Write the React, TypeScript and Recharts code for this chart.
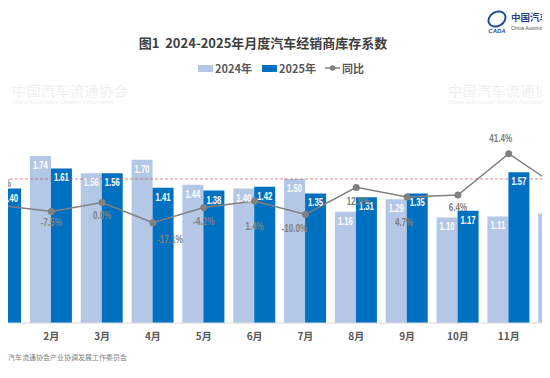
import React from 'react';
import { ComposedChart, Bar, Line, XAxis, YAxis, ReferenceLine, LabelList } from 'recharts';

const months = ['1月', '2月', '3月', '4月', '5月', '6月', '7月', '8月', '9月', '10月', '11月', '12月'];
const coef2024 = [1.43, 1.74, 1.56, 1.7, 1.44, 1.4, 1.5, 1.16, 1.29, 1.1, 1.11, 1.14];
const coef2025 = [1.4, 1.61, 1.56, 1.41, 1.38, 1.42, 1.35, 1.31, 1.35, 1.17, 1.57, 1.28];
const yoy = [-2.4, -7.5, 0.0, -17.1, -4.2, 1.4, -10.0, 12.9, 4.7, 6.4, 41.4, 12.3];
const warningLevel = 1.5;

// label nudges for the 同比 values (dx, dy from the point)
const yoyLabelShift: Array<[number, number]> = [
  [0, -22], [0, 11], [0, 12], [17, 16], [0, 13], [0, 25],
  [-11, 14], [2, 14], [-3, 25], [0, 12], [-8, -16], [14, 14],
];

const data = months.map((m, i) => ({
  month: m,
  y2024: coef2024[i],
  y2025: coef2025[i],
  yoy: yoy[i],
}));

const numFont = '"Liberation Sans", Arial, sans-serif';
const cjkFont = '"Noto Sans CJK SC", "Noto Sans", sans-serif';

// rough condensed widths so the numbers look like the narrow font in the source
const narrowWidth = (s: string, size: number) => {
  let w = 0;
  for (const ch of s) {
    if (ch === '.') w += 0.2;
    else if (ch === '%') w += 0.64;
    else if (ch === '-') w += 0.29;
    else w += 0.41;
  }
  return w * size;
};

const YoyLabel = (props: any) => {
  const { x, y, index, value } = props;
  const [dx, dy] = yoyLabelShift[index] || [0, 12];
  const txt = `${Number(value).toFixed(1)}%`;
  return (
    <text
      x={x + dx}
      y={y + dy}
      textAnchor="middle"
      dominantBaseline="central"
      fill="#808080"
      fontSize={11}
      fontWeight="bold"
      fontFamily={numFont}
      textLength={narrowWidth(txt, 11)}
      lengthAdjust="spacingAndGlyphs"
    >
      {txt}
    </text>
  );
};

const BarValue = (props: any) => {
  const { x, y, width, value } = props;
  const txt = Number(value).toFixed(2);
  return (
    <text
      x={x + width / 2}
      y={y + 9}
      textAnchor="middle"
      dominantBaseline="central"
      fill="#ffffff"
      fontSize={10.5}
      fontWeight="bold"
      fontFamily={numFont}
      textLength={narrowWidth(txt, 10.5)}
      lengthAdjust="spacingAndGlyphs"
    >
      {txt}
    </text>
  );
};

const Watermark = ({ left, top }: { left: number; top: number }) => (
  <div style={{ position: 'absolute', left, top, pointerEvents: 'none', whiteSpace: 'nowrap' }}>
    <div style={{ fontFamily: cjkFont, fontSize: 14, color: '#efefef', letterSpacing: 0.5, lineHeight: '16px' }}>
      中国汽车流通协会
    </div>
    <div style={{ fontFamily: 'Arial, sans-serif', fontSize: 6, color: '#efefef', lineHeight: '8px' }}>
      China Automobile Dealers Association
    </div>
  </div>
);

const App: React.FC = () => {
  return (
    <div
      style={{
        position: 'relative',
        width: 550,
        height: 378,
        margin: -8,
        overflow: 'hidden',
        background: '#fff',
      }}
    >
      <Watermark left={12} top={82} />
      <Watermark left={448} top={82} />

      {/* logo top right */}
      <div style={{ position: 'absolute', left: 486, top: 8, width: 22, height: 26 }}>
        <svg width={22} height={26}>
          <ellipse cx={11} cy={11} rx={9} ry={7} fill="none" stroke="#1f4e9c" strokeWidth={2} transform="rotate(-30 11 11)" />
          <text x={11} y={25} textAnchor="middle" fontSize={6} fontStyle="italic" fontWeight="bold" fill="#1f4e9c" fontFamily="Arial">CADA</text>
        </svg>
      </div>
      <div style={{ position: 'absolute', left: 511, top: 11, fontFamily: cjkFont, fontSize: 9.5, fontWeight: 'bold', color: '#1f3f8f', whiteSpace: 'nowrap', lineHeight: '13px' }}>
        中国汽车流通协会
      </div>
      <div style={{ position: 'absolute', left: 511, top: 25, fontFamily: 'Arial, sans-serif', fontSize: 5, color: '#555', whiteSpace: 'nowrap' }}>
        China Automobile Dealers Association
      </div>

      <div
        style={{
          position: 'absolute',
          left: 0,
          width: 550,
          top: 34,
          textAlign: 'center',
          fontFamily: cjkFont,
          fontSize: 13,
          fontWeight: 'bold',
          color: '#404040',
          lineHeight: '18px',
        }}
      >
        <span style={{ marginLeft: -24 }}>图1&nbsp;&nbsp;2024-2025年月度汽车经销商库存系数</span>
      </div>

      {/* legend */}
      <div
        style={{
          position: 'absolute',
          left: 198,
          top: 61,
          display: 'flex',
          alignItems: 'center',
          fontFamily: cjkFont,
          fontSize: 11,
          fontWeight: 'bold',
          color: '#595959',
          lineHeight: '14px',
          whiteSpace: 'nowrap',
        }}
      >
        <span style={{ display: 'inline-block', width: 15, height: 7, background: '#b4c7e7', marginRight: 2 }} />
        <span>2024年</span>
        <span style={{ display: 'inline-block', width: 15, height: 7, background: '#0070c0', marginLeft: 10, marginRight: 2 }} />
        <span>2025年</span>
        <svg width={15} height={8} style={{ marginLeft: 9, marginRight: 2 }}>
          <line x1={0} y1={4} x2={15} y2={4} stroke="#808080" strokeWidth={1.5} />
          <circle cx={7.5} cy={4} r={2.8} fill="#808080" />
        </svg>
        <span>同比</span>
      </div>

      <div style={{ position: 'absolute', left: -25, top: 0 }}>
        <ComposedChart
          width={610}
          height={378}
          data={data}
          margin={{ top: 35, right: 0, left: 0, bottom: 25 }}
          barCategoryGap="8%"
          barGap={0}
        >
          <XAxis
            dataKey="month"
            height={30}
            tickLine={false}
            axisLine={{ stroke: '#d9d9d9' }}
            tickMargin={4}
            interval={0}
            tick={{ fontSize: 10, fontWeight: 'bold', fill: '#595959', fontFamily: cjkFont }}
          />
          <YAxis yAxisId="left" hide domain={[0, 3]} />
          <YAxis yAxisId="right" hide domain={[-102, 142]} />
          <Bar yAxisId="left" dataKey="y2024" name="2024年" fill="#b4c7e7" isAnimationActive={false}>
            <LabelList dataKey="y2024" content={BarValue} />
          </Bar>
          <Bar yAxisId="left" dataKey="y2025" name="2025年" fill="#0070c0" isAnimationActive={false}>
            <LabelList dataKey="y2025" content={BarValue} />
          </Bar>
          <ReferenceLine yAxisId="left" y={warningLevel} stroke="#c0504d" strokeOpacity={0.65} strokeDasharray="3 2" />
          <Line
            yAxisId="right"
            type="linear"
            dataKey="yoy"
            name="同比"
            stroke="#808080"
            strokeWidth={1.5}
            dot={{ r: 3.5, fill: '#808080', stroke: 'none' }}
            label={YoyLabel}
            isAnimationActive={false}
          />
        </ComposedChart>
      </div>

      <div
        style={{
          position: 'absolute',
          left: -6,
          top: 352,
          fontFamily: cjkFont,
          fontSize: 7,
          color: '#7f7f7f',
          whiteSpace: 'nowrap',
        }}
      >
        中国汽车流通协会产业协调发展工作委员会
      </div>
    </div>
  );
};

export default App;
